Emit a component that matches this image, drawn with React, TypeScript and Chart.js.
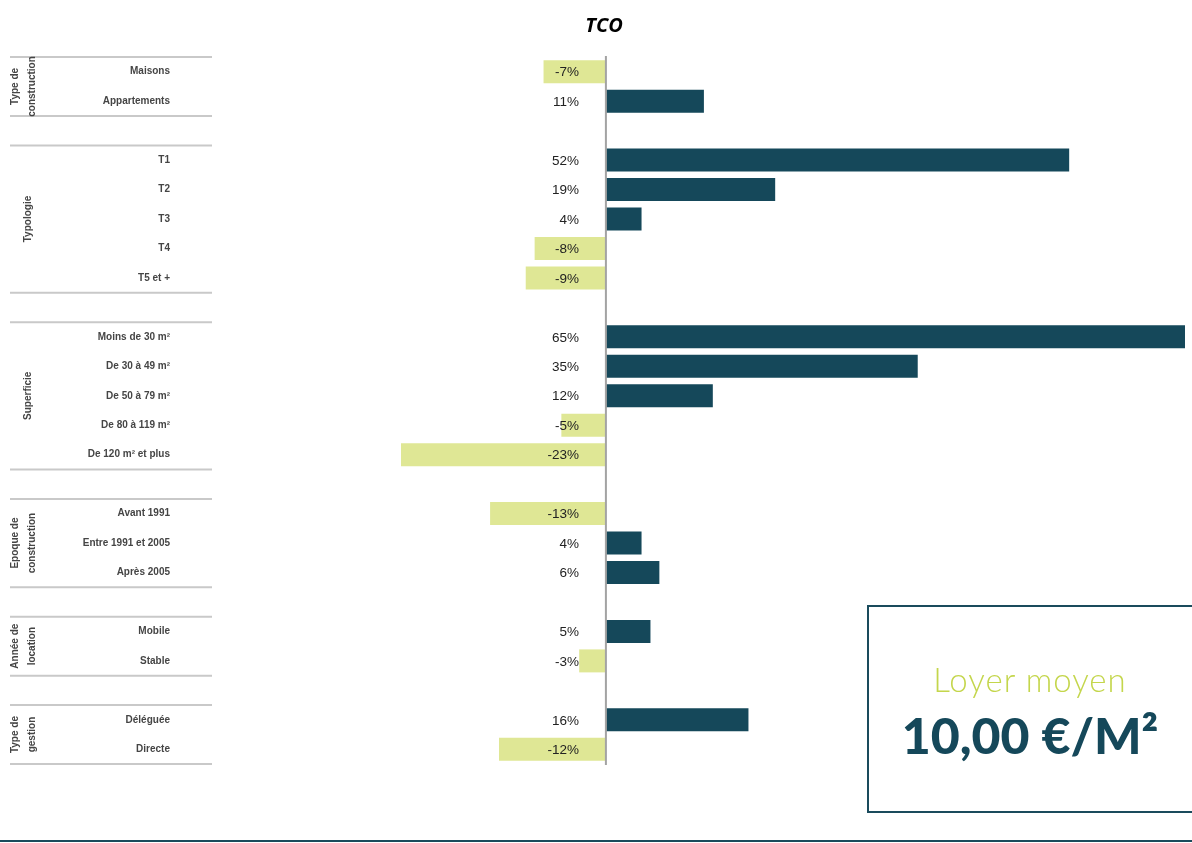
import React, { useEffect, useRef } from "react";
import { Chart, registerables } from "chart.js";

Chart.register(...registerables);

const categories = [
  "Maisons", "Appartements", "",
  "T1", "T2", "T3", "T4", "T5 et +", "",
  "Moins de 30 m²", "De 30 à 49 m²", "De 50 à 79 m²", "De 80 à 119 m²", "De 120 m² et plus", "",
  "Avant 1991", "Entre 1991 et 2005", "Après 2005", "",
  "Mobile", "Stable", "",
  "Déléguée", "Directe",
];

const values: (number | null)[] = [
  -7, 11, null,
  52, 19, 4, -8, -9, null,
  65, 35, 12, -5, -23, null,
  -13, 4, 6, null,
  5, -3, null,
  16, -12,
];

const groupTitles: string[][] = [
  ["Type de", "construction"],
  ["Typologie"],
  ["Superficie"],
  ["Epoque de", "construction"],
  ["Année de", "location"],
  ["Type de", "gestion"],
];
const groupStart = [0, 3, 9, 15, 19, 22];
const groupEnd = [1, 7, 13, 17, 20, 23];

const title = "TCO";
const boxLabel = "Loyer moyen";
const boxValue = "10,00 €/M²";

const TEAL = "#15485a";
const GREEN = "#dfe795";

const overlay = {
  id: "overlay",
  afterDraw(chart: any) {
    const ctx = chart.ctx as CanvasRenderingContext2D;
    const x = chart.scales.x;
    const y = chart.scales.y;
    const area = chart.chartArea;
    const rowH = y.getPixelForValue(1) - y.getPixelForValue(0);
    ctx.save();

    // title
    ctx.fillStyle = "#000";
    ctx.font = "italic bold 20px 'Open Sans', 'Liberation Sans', sans-serif";
    ctx.textAlign = "center";
    ctx.textBaseline = "alphabetic";
    ctx.fillText(title, 604, 32);

    // separators
    ctx.strokeStyle = "#c9c9c9";
    ctx.lineWidth = 2;
    for (let g = 0; g < groupStart.length; g++) {
      const top = y.getPixelForValue(groupStart[g]) - rowH / 2;
      const bot = y.getPixelForValue(groupEnd[g]) + rowH / 2;
      for (const yy of [top, bot]) {
        ctx.beginPath();
        ctx.moveTo(10, yy);
        ctx.lineTo(212, yy);
        ctx.stroke();
      }
      // group titles
      const cy = (top + bot) / 2;
      const lines = groupTitles[g];
      ctx.save();
      ctx.fillStyle = "#454545";
      ctx.font = "bold 10px 'Liberation Sans', Arial, sans-serif";
      ctx.textAlign = "center";
      ctx.textBaseline = "middle";
      lines.forEach((ln, i) => {
        const cx = lines.length === 1 ? 28 : 15 + i * 17;
        ctx.save();
        ctx.translate(cx, cy);
        ctx.rotate(-Math.PI / 2);
        ctx.fillText(ln, 0, 0);
        ctx.restore();
      });
      ctx.restore();
    }

    // category labels
    ctx.fillStyle = "#454545";
    ctx.font = "bold 10px 'Liberation Sans', Arial, sans-serif";
    ctx.textAlign = "right";
    ctx.textBaseline = "middle";
    categories.forEach((c, i) => {
      if (c) ctx.fillText(c, 170, y.getPixelForValue(i));
    });

    // zero line
    const x0 = x.getPixelForValue(0);
    ctx.strokeStyle = "#a3a3a3";
    ctx.lineWidth = 2;
    ctx.beginPath();
    ctx.moveTo(x0, area.top - 1);
    ctx.lineTo(x0, area.bottom + 1);
    ctx.stroke();

    // value labels
    ctx.fillStyle = "#222";
    ctx.font = "13.5px 'Liberation Sans', Arial, sans-serif";
    ctx.textAlign = "right";
    ctx.textBaseline = "middle";
    values.forEach((v, i) => {
      if (v === null) return;
      ctx.fillText(`${v}%`, x0 - 27, y.getPixelForValue(i) + 1);
    });

    ctx.restore();
  },
};

export default function App() {
  const ref = useRef<HTMLCanvasElement | null>(null);
  useEffect(() => {
    if (!ref.current) return;
    const chart = new Chart(ref.current, {
      type: "bar",
      data: {
        labels: categories,
        datasets: [
          {
            data: values as any,
            backgroundColor: values.map((v) => ((v ?? 0) >= 0 ? TEAL : GREEN)),
            borderWidth: 0,
            barPercentage: 0.78,
            categoryPercentage: 1,
          },
        ],
      },
      options: {
        indexAxis: "y",
        animation: false,
        responsive: false,
        devicePixelRatio: 1,
        layout: { padding: { left: 401, right: 7, top: 57, bottom: 79 } },
        scales: {
          x: { type: "linear", min: -23, max: 65, display: false },
          y: { display: false },
        },
        plugins: { legend: { display: false }, tooltip: { enabled: false }, title: { display: false } },
      },
      plugins: [overlay],
    });
    return () => chart.destroy();
  }, []);

  return (
    <div style={{ position: "absolute", left: 0, top: 0, width: 1192, height: 843, overflow: "hidden", background: "#fff" }}>
      <canvas ref={ref} width={1192} height={843} style={{ position: "absolute", left: 0, top: 0 }} />
      <div
        style={{
          position: "absolute",
          left: 867,
          top: 605,
          width: 340,
          height: 204,
          border: "2.5px solid #1a4b5c",
        }}
      />
      <div
        style={{
          position: "absolute",
          left: 868,
          width: 324,
          top: 660,
          textAlign: "center",
          fontFamily: "Lato, 'Open Sans', sans-serif",
          fontWeight: 300,
          fontSize: 33,
          letterSpacing: 1,
          color: "#c4d64c",
          lineHeight: "38px",
        }}
      >
        {boxLabel}
      </div>
      <div
        style={{
          position: "absolute",
          left: 868,
          width: 324,
          top: 705,
          textAlign: "center",
          fontFamily: "Lato, 'Open Sans', sans-serif",
          fontWeight: 900,
          fontSize: 50,
          color: "#15485a",
          lineHeight: "60px",
        }}
      >
        {boxValue}
      </div>
      <div style={{ position: "absolute", left: 0, top: 840, width: 1192, height: 2, background: "#1a4b5c" }} />
    </div>
  );
}
